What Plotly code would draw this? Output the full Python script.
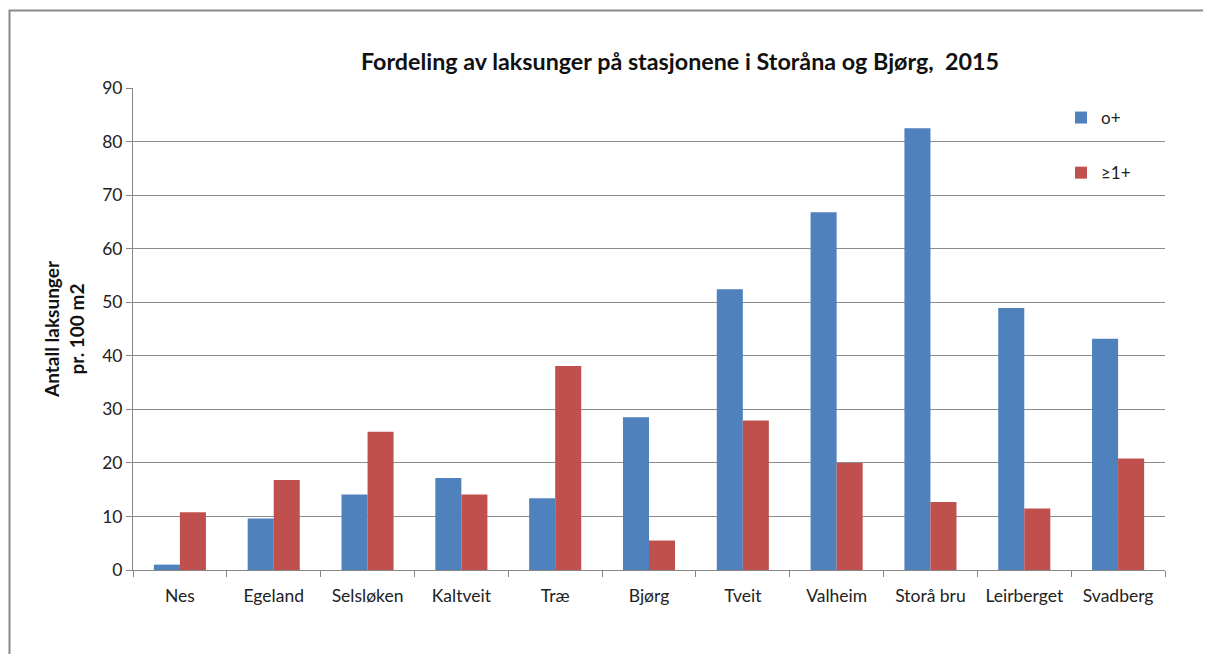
import plotly.graph_objects as go

categories = ["Nes", "Egeland", "Selsløken", "Kaltveit", "Træ", "Bjørg",
              "Tveit", "Valheim", "Storå bru", "Leirberget", "Svadberg"]
age0_values = [1.0, 9.6, 14.1, 17.2, 13.4, 28.5, 52.4, 66.8, 82.5, 48.9, 43.2]
age1_values = [10.8, 16.8, 25.8, 14.1, 38.1, 5.5, 27.9, 20.0, 12.7, 11.5, 20.8]
series_names = ["o+", "≥1+"]
y_ticks = [0, 10, 20, 30, 40, 50, 60, 70, 80, 90]

FONT = "Lato"
OFF = 8  # default page body margin
W, H = 1211 - 2 * OFF, 662 - 2 * OFF
# plot area in screen pixels
SL, SR, ST, SB = 133, 1165, 88, 570
L = SL - OFF
T = ST - OFF
R = W - (SR - OFF)
B = H - (SB - OFF)

fig = go.Figure()
fig.add_trace(go.Bar(x=categories, y=age0_values, name=series_names[0],
                     marker=dict(color="#4F81BD", line=dict(width=0)),
                     legendgroup="a"))
fig.add_trace(go.Bar(x=categories, y=age1_values, name=series_names[1],
                     marker=dict(color="#C0504D", line=dict(width=0)),
                     legendgroup="b"))

pw = SR - SL
ph = SB - ST
def px_x(x):
    return (x - SL) / pw
def px_y(y):
    return (SB - y) / ph

fig.update_layout(
    width=W, height=H,
    margin=dict(l=L, r=R, t=T, b=B, autoexpand=False),
    paper_bgcolor="white", plot_bgcolor="white",
    barmode="group", bargap=0.445, bargroupgap=0,
    font=dict(family=FONT, color="#222222", size=17),
    title=dict(text="<b>Fordeling av laksunger på stasjonene i Storåna og Bjørg,  2015</b>",
               x=(680 - OFF) / W, xanchor="center", xref="container",
               y=1 - (62 - OFF) / H, yanchor="middle", yref="container",
               font=dict(family=FONT, size=23.3, color="#111111")),
    legend=dict(x=px_x(1061), y=px_y(100), xanchor="left", yanchor="top",
                bgcolor="rgba(0,0,0,0)", traceorder="grouped",
                tracegroupgap=30, itemwidth=30,
                font=dict(family=FONT, size=17, color="#222222")),
    xaxis=dict(type="category", showgrid=False, showline=True,
               linecolor="#868686", linewidth=1, ticks="outside",
               tickson="boundaries", ticklen=6, tickcolor="#868686",
               ticklabelstandoff=10,
               tickfont=dict(family=FONT, size=17.5, color="#222222"),
               range=[-0.5, len(categories) - 0.5]),
    yaxis=dict(range=[0, 90], tickvals=y_ticks, showgrid=True,
               gridcolor="#8c8c8c", gridwidth=1, showline=True,
               linecolor="#868686", linewidth=1, ticks="outside",
               ticklen=6, tickcolor="#868686", zeroline=False,
               tickfont=dict(family=FONT, size=17.5, color="#222222"),
               title=dict(text="<b>Antall laksunger<br>pr. 100 m2</b>",
                          font=dict(family=FONT, size=19, color="#111111"),
                          standoff=12)),
    shapes=[
        dict(type="rect", xref="paper", yref="paper",
             x0=px_x(9.5), x1=px_x(1400), y0=px_y(10.5), y1=px_y(900),
             line=dict(color="#8a8a8a", width=2), fillcolor="rgba(0,0,0,0)",
             layer="below"),
    ],
)

fig.write_html("out.html")
